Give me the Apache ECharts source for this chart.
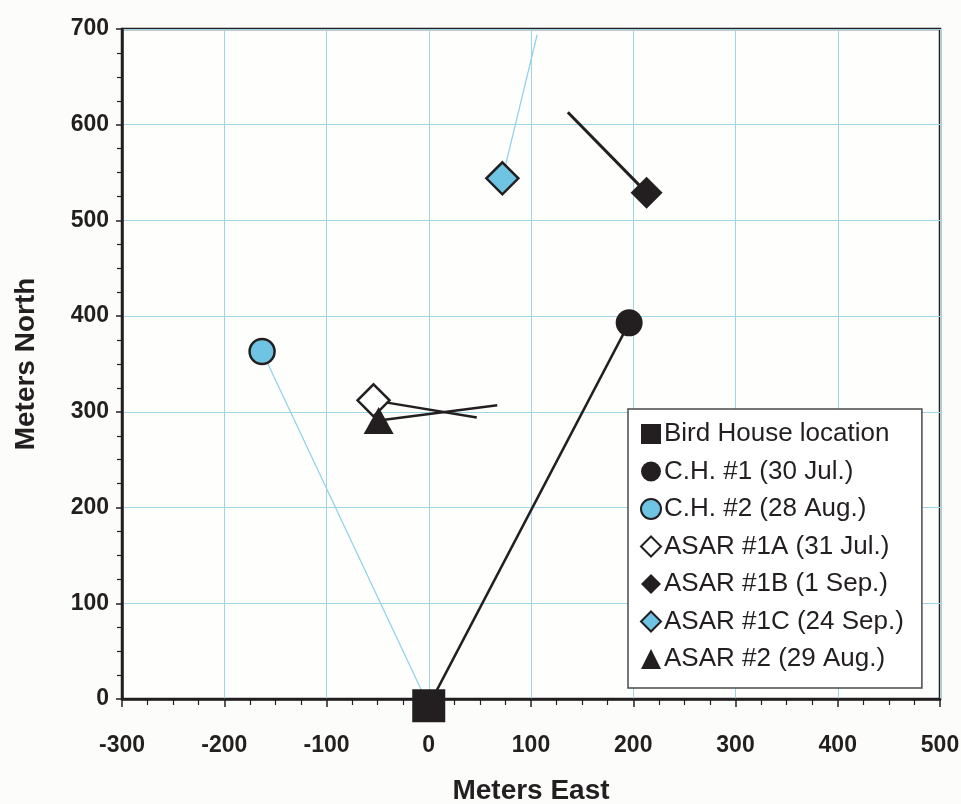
<!DOCTYPE html>
<html>
<head>
<meta charset="utf-8">
<script src="https://cdn.jsdelivr.net/npm/echarts@6/dist/echarts.min.js"></script>
<style>
  html, body { margin: 0; padding: 0; background: #fcfcfa; }
  #chart { width: 961px; height: 804px; }
</style>
</head>
<body>
<div id="chart"></div>
<script>
// Axis ranges and tick steps (meters)
const xMin = -300, xMax = 500, xStep = 100;
const yMin = 0, yMax = 700, yStep = 100;

// Legend entries
const seriesNames = [
  'Bird House location',
  'C.H. #1 (30 Jul.)',
  'C.H. #2 (28 Aug.)',
  'ASAR #1A (31 Jul.)',
  'ASAR #1B (1 Sep.)',
  'ASAR #1C (24 Sep.)',
  'ASAR #2 (29 Aug.)'
];

// Positions [east, north] in meters
const birdHouse = [0, -7];
const ch1 = [196, 393];
const ch2 = [-163, 363];
const asar1A = [-54, 312];
const asar1B = [213, 529];
const asar1C = [72, 544];
const asar2 = [-49, 291];

// Track segments drawn for each animal
const ch1Track = [birdHouse, ch1];
const ch2Track = [birdHouse, ch2];
const asar1ATrack = [asar1A, [47, 294]];
const asar1BTrack = [[136, 613], asar1B];
const asar1CTrack = [asar1C, [106, 694]];
const asar2Track = [asar2, [67, 307]];

const INK = '#231f20';
const SKY = '#6ec4e2';
const SKY_LINE = '#8fd0e8';
const GRID = '#9fd4e6';

const tickFont = "'Liberation Sans', Arial, sans-serif";
const textFont = "'Liberation Sans', Arial, sans-serif";

function track(data, color, width) {
  return {
    type: 'line', data: data, symbol: 'none', silent: true, z: 2, clip: false,
    lineStyle: { color: color, width: width, opacity: 1 }, animation: false
  };
}

function point(name, data, symbol, size, itemStyle) {
  return {
    type: 'scatter', name: name, data: [data], symbol: symbol, symbolSize: size,
    clip: false, itemStyle: Object.assign({ opacity: 1 }, itemStyle), z: 5, animation: false
  };
}

const chart = echarts.init(document.getElementById('chart'), null, { renderer: 'canvas' });

chart.setOption({
  backgroundColor: '#fcfcfa',
  animation: false,
  grid: {
    left: 122, right: 21, top: 29, bottom: 105,
    outerBoundsMode: 'none',
    show: true, borderColor: INK, borderWidth: 2.5, backgroundColor: '#fefefd'
  },
  xAxis: {
    type: 'value', min: xMin, max: xMax, interval: xStep,
    name: 'Meters East', nameLocation: 'middle', nameGap: 78,
    nameTextStyle: { fontFamily: textFont, fontWeight: 'bold', fontSize: 28, color: INK },
    axisLine: { onZero: false, lineStyle: { color: INK, width: 2.5 } },
    axisTick: { show: true, inside: false, length: 8, lineStyle: { color: INK, width: 1.5 } },
    minorTick: { show: true, splitNumber: 4, length: 6, lineStyle: { color: INK, width: 1.2 } },
    axisLabel: { margin: 35, fontFamily: tickFont, fontWeight: 'bold', fontSize: 23, color: INK },
    splitLine: { show: true, lineStyle: { color: GRID, width: 1 } }
  },
  yAxis: {
    type: 'value', min: yMin, max: yMax, interval: yStep,
    name: 'Meters North', nameLocation: 'middle', nameGap: 82, nameRotate: 90,
    nameTextStyle: { fontFamily: textFont, fontWeight: 'bold', fontSize: 28, color: INK },
    axisLine: { onZero: false, lineStyle: { color: INK, width: 2.5 } },
    axisTick: { show: true, inside: false, length: 6, lineStyle: { color: INK, width: 1.5 } },
    minorTick: { show: true, splitNumber: 4, length: 5, lineStyle: { color: INK, width: 1.2 } },
    axisLabel: { margin: 13, fontFamily: tickFont, fontWeight: 'bold', fontSize: 23, color: INK },
    splitLine: { show: true, lineStyle: { color: GRID, width: 1 } }
  },
  legend: {
    orient: 'vertical',
    left: 628, top: 409,
    padding: [12, 18, 16, 12],
    itemGap: 11.5,
    itemWidth: 20, itemHeight: 20,
    backgroundColor: '#ffffff',
    borderColor: '#4a4a4a', borderWidth: 1.5,
    textStyle: { fontFamily: textFont, fontSize: 26, color: INK, padding: [0, 0, 0, -2] },
    data: seriesNames
  },
  series: [
    track(ch2Track, SKY_LINE, 1.2),
    track(asar1CTrack, SKY_LINE, 1.2),
    track(ch1Track, INK, 2.5),
    track(asar1ATrack, INK, 2.5),
    track(asar1BTrack, INK, 3),
    track(asar2Track, INK, 2.5),
    point(seriesNames[0], birdHouse, 'rect', 33, { color: INK }),
    point(seriesNames[1], ch1, 'circle', 27, { color: INK }),
    point(seriesNames[2], ch2, 'circle', 25, { color: SKY, borderColor: INK, borderWidth: 2.5 }),
    point(seriesNames[3], asar1A, 'diamond', 32, { color: '#ffffff', borderColor: INK, borderWidth: 2.5 }),
    point(seriesNames[4], asar1B, 'diamond', 32, { color: INK }),
    point(seriesNames[5], asar1C, 'diamond', 32, { color: SKY, borderColor: INK, borderWidth: 2.5 }),
    point(seriesNames[6], asar2, 'triangle', [30, 27], { color: INK })
  ]
});
</script>
</body>
</html>
